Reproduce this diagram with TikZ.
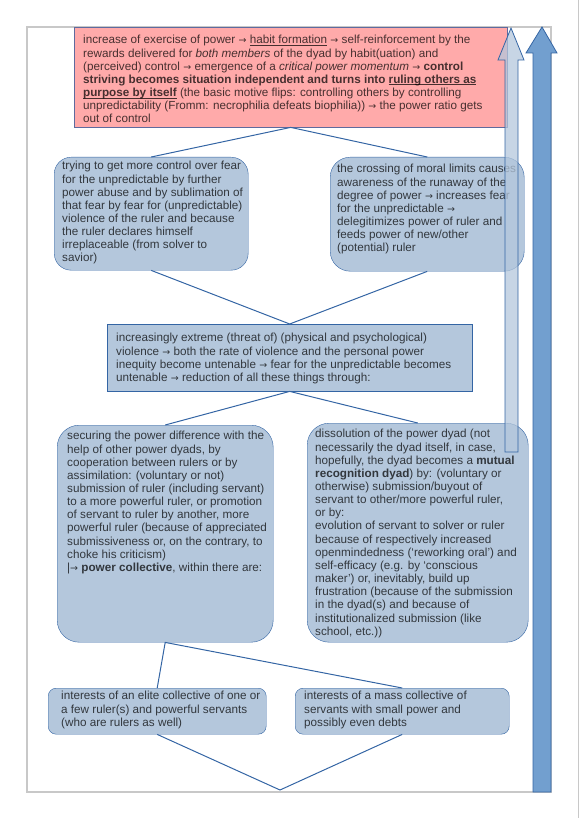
\documentclass[tikz,border=0pt]{standalone}
\usepackage{fontspec}
\setmainfont{Liberation Sans}
\newfontfamily\symfont{DejaVu Sans}
\newcommand{\ra}{{\symfont\fontsize{9.5}{9.5}\selectfont →}}
\newcommand{\uln}[1]{\setbox0\hbox{#1}\rlap{\rule[-1.8pt]{\wd0}{0.7pt}}\box0\relax}
\definecolor{boxblue}{HTML}{B4C7DC}
\definecolor{arrowblue}{HTML}{729FCF}
\definecolor{lineblue}{HTML}{3465A4}
\definecolor{boxpink}{HTML}{FFAAAA}
\definecolor{pinkline}{HTML}{5E6A9E}
\definecolor{framegray}{HTML}{C8C8C8}

\begin{document}
\begin{tikzpicture}[x=1pt,y=-1pt,
    bluebox/.style={draw=lineblue,fill=boxblue,anchor=north west,inner sep=0pt},
    boxtext/.style={anchor=north west,inner sep=0pt,align=left,text=black,text opacity=0.72,
        font=\fontsize{11.7}{13.15}\selectfont},
    link/.style={draw=lineblue,line width=1pt}]
    \useasboundingbox (0,0) rectangle (579,818);
    % Page frame
    \draw[framegray,line width=1.2pt] (27,27) rectangle (551,792);
    \draw[framegray,line width=0.8pt] (578,0) -- (578,818);

    % Boxes
    \node[bluebox,draw=pinkline,fill=boxpink,minimum width=433pt,minimum height=100pt] (habit) at (74,27) {};
    \node[bluebox,rounded corners=17pt,minimum width=194pt,minimum height=113pt] (fear) at (54,157) {};
    \node[bluebox,rounded corners=20pt,minimum width=194pt,minimum height=114pt] (moral) at (330,157) {};
    \node[bluebox,minimum width=365pt,minimum height=67pt] (violence) at (107,324) {};
    \node[bluebox,rounded corners=22pt,minimum width=216pt,minimum height=217pt] (collective) at (57,425) {};
    \node[bluebox,rounded corners=22pt,minimum width=221pt,minimum height=219pt] (dissolution) at (307,423) {};
    \node[bluebox,rounded corners=8pt,minimum width=218pt,minimum height=46pt] (elite) at (48,688) {};
    \node[bluebox,rounded corners=8pt,minimum width=214pt,minimum height=46pt] (mass) at (295,688) {};

    \coordinate (apex) at (280,790);

    % Connectors
    \draw[link] (fear.north) -- (habit.south) -- (moral.north);
    \draw[link] (fear.south) -- (violence.north) -- (moral.south);
    \draw[link] (collective.north) -- (violence.south) -- (dissolution.north);
    \draw[link] (elite.north) -- (collective.south) -- (mass.north);
    \draw[link] (elite.south) -- (apex) -- (mass.south);

    % Texts
    \node[boxtext] (habittext) at (83,34.5) {\strut increase of exercise of power \ra{} \uln{habit formation} \ra{} self-reinforcement by the\\
        rewards delivered for \textit{both members} of the dyad by habit(uation) and\\
        (perceived) control \ra{} emergence of a \textit{critical power momentum} \ra{} \textbf{control}\\
        \textbf{striving becomes situation independent and turns into \uln{ruling others as}}\\
        \textbf{\uln{purpose by itself}} (the basic motive flips: controlling others by controlling\\
        unpredictability (Fromm: necrophilia defeats biophilia)) \ra{} the power ratio gets\\
        out of control};
    \node[boxtext] (feartext) at (62,160.5) {\strut trying to get more control over fear\\
        for the unpredictable by further\\
        power abuse and by sublimation of\\
        that fear by fear for (unpredictable)\\
        violence of the ruler and because\\
        the ruler declares himself\\
        irreplaceable (from solver to\\
        savior)};
    \node[boxtext] (moraltext) at (337,163.5) {\strut the crossing of moral limits causes\\
        awareness of the runaway of the\\
        degree of power \ra{} increases fear\\
        for the unpredictable \ra{}\\
        delegitimizes power of ruler and\\
        feeds power of new/other\\
        (potential) ruler};
    \node[boxtext] (violencetext) at (116,332.5) {\strut increasingly extreme (threat of) (physical and psychological)\\
        violence \ra{} both the rate of violence and the personal power\\
        inequity become untenable \ra{} fear for the unpredictable becomes\\
        untenable \ra{} reduction of all these things through:};
    \node[boxtext] (collectivetext) at (67,430.5) {\strut securing the power difference with the\\
        help of other power dyads, by\\
        cooperation between rulers or by\\
        assimilation: (voluntary or not)\\
        submission of ruler (including servant)\\
        to a more powerful ruler, or promotion\\
        of servant to ruler by another, more\\
        powerful ruler (because of appreciated\\
        submissiveness or, on the contrary, to\\
        choke his criticism)\\
        |\ra{} \textbf{power collective}, within there are:};
    \node[boxtext] (dissolutiontext) at (315,428.5) {\strut dissolution of the power dyad (not\\
        necessarily the dyad itself, in case,\\
        hopefully, the dyad becomes a \textbf{mutual}\\
        \textbf{recognition dyad}) by: (voluntary or\\
        otherwise) submission/buyout of\\
        servant to other/more powerful ruler,\\
        or by:\\
        evolution of servant to solver or ruler\\
        because of respectively increased\\
        openmindedness (‘reworking oral’) and\\
        self-efficacy (e.g. by ‘conscious\\
        maker’) or, inevitably, build up\\
        frustration (because of the submission\\
        in the dyad(s) and because of\\
        institutionalized submission (like\\
        school, etc.))};
    \node[boxtext] (elitetext) at (61,690.5) {\strut interests of an elite collective of one or\\
        a few ruler(s) and powerful servants\\
        (who are rulers as well)};
    \node[boxtext] (masstext) at (304,690.5) {\strut interests of a mass collective of\\
        servants with small power and\\
        possibly even debts};

    % Upward arrows
    \draw[lineblue,fill=boxblue,fill opacity=0.75,line width=0.8pt] (505,452) -- (505,60) -- (498,60)
        -- (511,28) -- (524,60) -- (518,60) -- (518,452) -- cycle;
    \draw[lineblue,fill=arrowblue,line width=0.8pt] (533,792) -- (533,53) -- (526,53)
        -- (542,27) -- (557,53) -- (551,53) -- (551,792) -- cycle;
\end{tikzpicture}
\end{document}
